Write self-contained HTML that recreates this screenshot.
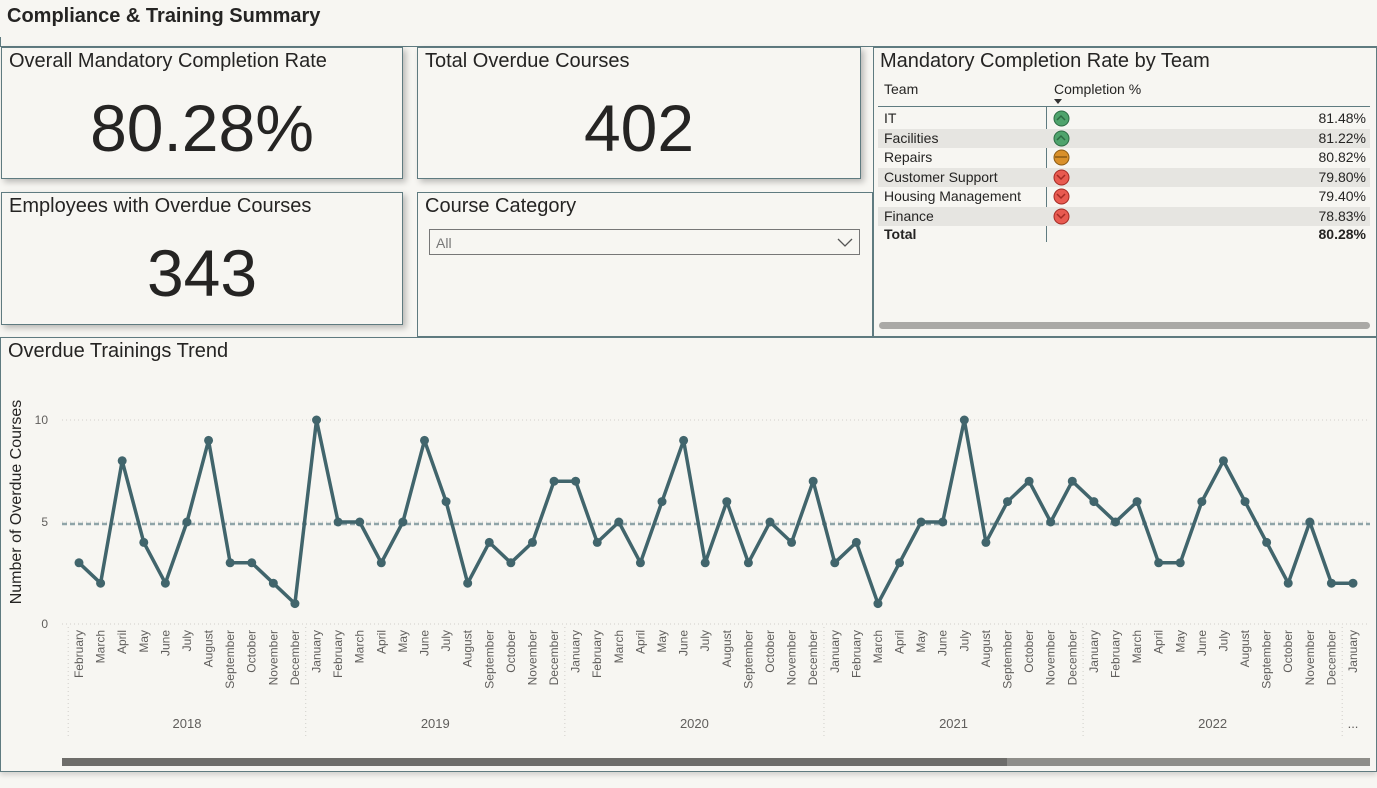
<!DOCTYPE html>
<html><head><meta charset="utf-8">
<style>
body{margin:0;width:1377px;height:788px;background:#f7f6f2;font-family:"Liberation Sans",sans-serif;color:#252423;position:relative;overflow:hidden}
.card{position:absolute;background:#f7f6f2;border:1px solid #5f7b80;box-shadow:3px 3px 6px rgba(0,0,0,.25);box-sizing:border-box;overflow:hidden}
.t{position:absolute;left:7px;top:2px;font-size:20px;color:#252423}
.big{position:absolute;left:0;right:0;text-align:center;font-size:66px;color:#252423}
</style></head><body>
<div style="position:absolute;left:7px;top:5px;font-size:20px;font-weight:bold">Compliance &amp; Training Summary</div>
<div style="position:absolute;left:0;top:37px;width:1377px;height:9px;border-bottom:1px solid #5f7b80;border-left:1px solid #5f7b80"></div>

<div class="card" style="left:1px;top:47px;width:402px;height:132px">
<div class="t">Overall Mandatory Completion Rate</div>
<div class="big" style="top:42px">80.28%</div></div>

<div class="card" style="left:417px;top:47px;width:444px;height:132px">
<div class="t">Total Overdue Courses</div>
<div class="big" style="top:42px">402</div></div>

<div class="card" style="left:1px;top:192px;width:402px;height:133px">
<div class="t">Employees with Overdue Courses</div>
<div class="big" style="top:42px">343</div></div>

<div class="card" style="left:417px;top:192px;width:456px;height:145px;box-shadow:none">
<div class="t">Course Category</div>
<div style="position:absolute;left:11px;top:36px;width:431px;height:26px;border:1px solid #777;box-sizing:border-box;font-size:14px;color:#777;padding:5px 6px">All
<svg style="position:absolute;right:6px;top:8px" width="16" height="10"><polyline points="1,1 8,8 15,1" fill="none" stroke="#555" stroke-width="1.3"/></svg></div></div>

<div class="card" style="left:873px;top:47px;width:504px;height:290px;box-shadow:none">
<div class="t" style="left:6px">Mandatory Completion Rate by Team</div>
<div style="position:absolute;left:10px;top:33px;font-size:14px">Team</div>
<div style="position:absolute;left:180px;top:33px;font-size:14px">Completion %</div>
<div style="position:absolute;left:180px;top:51px;width:0;height:0;border-left:4px solid transparent;border-right:4px solid transparent;border-top:5px solid #333"></div>
<div style="position:absolute;left:4px;top:58px;width:492px;border-top:1px solid #5f7b80"></div>
<div style="position:absolute;left:172px;top:58px;height:136px;border-left:1px solid #5f7b80"></div>
<div id="rows"></div>
<div style="position:absolute;left:5px;top:274px;width:491px;height:7px;border-radius:4px;background:#aaa9a6"></div>
</div>

<div class="card" style="left:0;top:337px;width:1377px;height:435px;box-shadow:0 3px 5px rgba(0,0,0,.15)">
<svg id="chart" width="1377" height="435" style="position:absolute;left:-1px;top:-1px"></svg>
<div class="t">Overdue Trainings Trend</div>
</div>

<script>
const teams=["IT","Facilities","Repairs","Customer Support","Housing Management","Finance"];
const pcts=[81.48,81.22,80.82,79.80,79.40,78.83];
const status=["up","up","flat","down","down","down"];
const rows=document.getElementById('rows');
let h='';
teams.forEach((t,i)=>{
 const y=61+i*19.5, bg=i%2?'#e6e5e1':'transparent';
 const col=status[i]=='up'?'#4fa36c':status[i]=='flat'?'#d9902a':'#e85a50';
 const sc=status[i]=='up'?'#2d6b44':status[i]=='flat'?'#8a5a14':'#a32a24';
 let g=status[i]=='up'?'<polyline points="4,10 8,6 12,10" fill="none" stroke="'+sc+'" stroke-width="1.5"/>':status[i]=='flat'?'<line x1="2" y1="8" x2="14" y2="8" stroke="'+sc+'" stroke-width="1.5"/>':'<polyline points="4,6 8,10 12,6" fill="none" stroke="'+sc+'" stroke-width="1.5"/>';
 h+=`<div style="position:absolute;left:4px;top:${y}px;width:492px;height:19px;background:${bg};font-size:14px">
<span style="position:absolute;left:6px;top:1px">${t}</span>
<svg style="position:absolute;left:175px;top:1px" width="17" height="17"><circle cx="8.5" cy="8.5" r="7.5" fill="${col}" stroke="${sc}"/>${g}</svg>
<span style="position:absolute;right:4px;top:1px">${pcts[i].toFixed(2)}%</span></div>`;
});
h+=`<div style="position:absolute;left:4px;top:178px;width:492px;height:19px;font-size:14px;font-weight:bold"><span style="position:absolute;left:6px">Total</span><span style="position:absolute;right:4px">80.28%</span></div>`;
rows.innerHTML=h;

// chart data
const months=["February","March","April","May","June","July","August","September","October","November","December",
"January","February","March","April","May","June","July","August","September","October","November","December",
"January","February","March","April","May","June","July","August","September","October","November","December",
"January","February","March","April","May","June","July","August","September","October","November","December",
"January","February","March","April","May","June","July","August","September","October","November","December",
"January"];
const values=[3,2,8,4,2,5,9,3,3,2,1,
10,5,5,3,5,9,6,2,4,3,4,7,
7,4,5,3,6,9,3,6,3,5,4,7,
3,4,1,3,5,5,10,4,6,7,5,7,
6,5,6,3,3,6,8,6,4,2,5,2,
2];
const years=["2018","2019","2020","2021","2022","..."];
const yearCounts=[11,12,12,12,12,1];
const yTicks=[0,5,10];
const avgValue=4.9;

const svg=document.getElementById('chart');
const NS='http://www.w3.org/2000/svg';
const X=i=>79+i*(1353-79)/(months.length-1);
const Y=v=>287-v*20.4;
function el(tag,attrs){const e=document.createElementNS(NS,tag);for(const k in attrs)e.setAttribute(k,attrs[k]);svg.appendChild(e);return e;}
yTicks.forEach(t=>{
 const l=el('line',{x1:62,x2:1370,y1:Y(t),y2:Y(t),stroke:'#d0cfca','stroke-dasharray':'1,3'});
 
 
 const tx=el('text',{x:48,y:Y(t)+4,'text-anchor':'end','font-size':12,fill:'#605e5c'});
 tx.textContent=t;
 
 
});
const yt=el('text',{x:0,y:0,transform:'translate(21,165) rotate(-90)','text-anchor':'middle','font-size':16,fill:'#252423'});
yt.textContent='Number of Overdue Courses';


const step=(1353-79)/(months.length-1);
let idx=0;
years.forEach((yr,k)=>{
 const x0=X(idx)-step/2, x1=X(idx+yearCounts[k]-1)+step/2;
 const sep=el('line',{x1:x0,x2:x0,y1:290,y2:400,stroke:'#d0cfca','stroke-dasharray':'1,3'});
 
 
 const tx=el('text',{x:(x0+x1)/2,y:391,'text-anchor':'middle','font-size':13,fill:'#605e5c'});
 tx.textContent=yr;
 
 
 idx+=yearCounts[k];
});
months.forEach((m,i)=>{
 const tx=el('text',{transform:`translate(${X(i)+4},293) rotate(-90)`,'text-anchor':'end','font-size':12,fill:'#605e5c'});
 tx.textContent=m;
 
 
});
const avg=el('line',{x1:62,x2:1370,y1:Y(avgValue),y2:Y(avgValue),stroke:'#8fa4a8','stroke-width':2.5,'stroke-dasharray':'5,3'});


const line=el('polyline',{points:values.map((v,i)=>X(i)+','+Y(v)).join(' '),fill:'none',stroke:'#41656c','stroke-width':3.5,'stroke-linejoin':'round'});


values.forEach((v,i)=>{
 const c=el('circle',{cx:X(i),cy:Y(v),r:4.5,fill:'#41656c'});
 
 
});
const sb=el('rect',{x:62,y:421,width:1308,height:8,fill:'#8f8e8a'});


const th=el('rect',{x:62,y:421,width:945,height:8,fill:'#6e6d6a'});


</script>
</body></html>
